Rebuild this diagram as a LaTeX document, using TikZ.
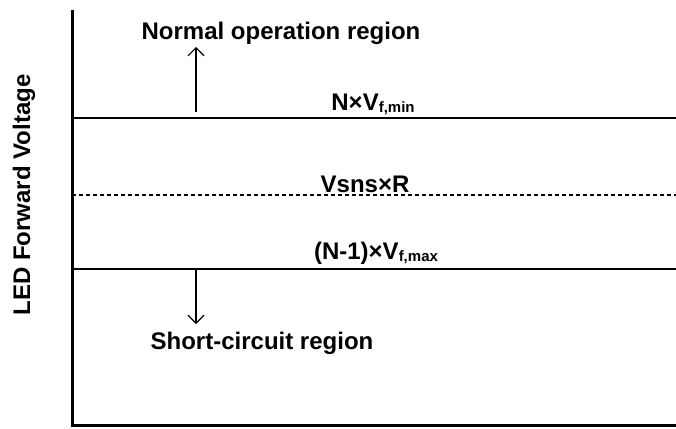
\documentclass[tikz,border=0pt]{standalone}
\usepackage{fontspec}
\setmainfont{Liberation Sans}
\usepackage{tikz}
\usetikzlibrary{positioning, calc, arrows.meta}

\tikzset{
    lbl/.style={font=\fontsize{24}{27}\selectfont\bfseries, inner sep=0pt},
    lvl/.style={line width=2pt},
    dir/.style={line width=1.2pt, -{Straight Barb[length=8pt,width=16pt,line width=1.2pt]}}
}

\begin{document}
\begin{tikzpicture}[x=1pt, y=-1pt]
        \useasboundingbox (0,0) rectangle (676,428);

        % axes
        \coordinate (top) at (72,10);
        \coordinate (origin) at (72,425);
        \coordinate (right) at (676,425);
        \draw[line width=3pt] (top) -- (origin) -- (right);

        % voltage levels
        \coordinate (vmin) at (72,118);
        \coordinate (vmin e) at (676,118);
        \coordinate (vsns) at (72,195);
        \coordinate (vsns e) at (676,195);
        \coordinate (vmax) at (72,269);
        \coordinate (vmax e) at (676,269);
        \draw[lvl] (vmin) -- (vmin e);
        \draw[line width=1.4pt, dash pattern=on 4pt off 3pt] (vsns) -- (vsns e);
        \draw[lvl] (vmax) -- (vmax e);

        \node[lbl] (nmin) at (373,104) {N×V{\fontsize{15}{15}\selectfont\raisebox{-2pt}{f,min}}};
        \node[lbl] (sns) at (365,184) {Vsns×R};
        \node[lbl] (nmax) at (376,253) {(N-1)×V{\fontsize{15}{15}\selectfont\raisebox{-2pt}{f,max}}};

        % regions
        \node[lbl] (normal) at (281,33) {Normal operation region};
        \node[lbl] (short) at (262,343) {Short-circuit region};
        \coordinate (up s) at (196,112);
        \coordinate (up e) at (196,47);
        \coordinate (dn s) at (196,270);
        \coordinate (dn e) at (196,324);
        \draw[dir] (up s) -- (up e);
        \draw[dir] (dn s) -- (dn e);

        \node[lbl, rotate=90] (axis) at (24,195) {LED Forward Voltage};
    \end{tikzpicture}
\end{document}
